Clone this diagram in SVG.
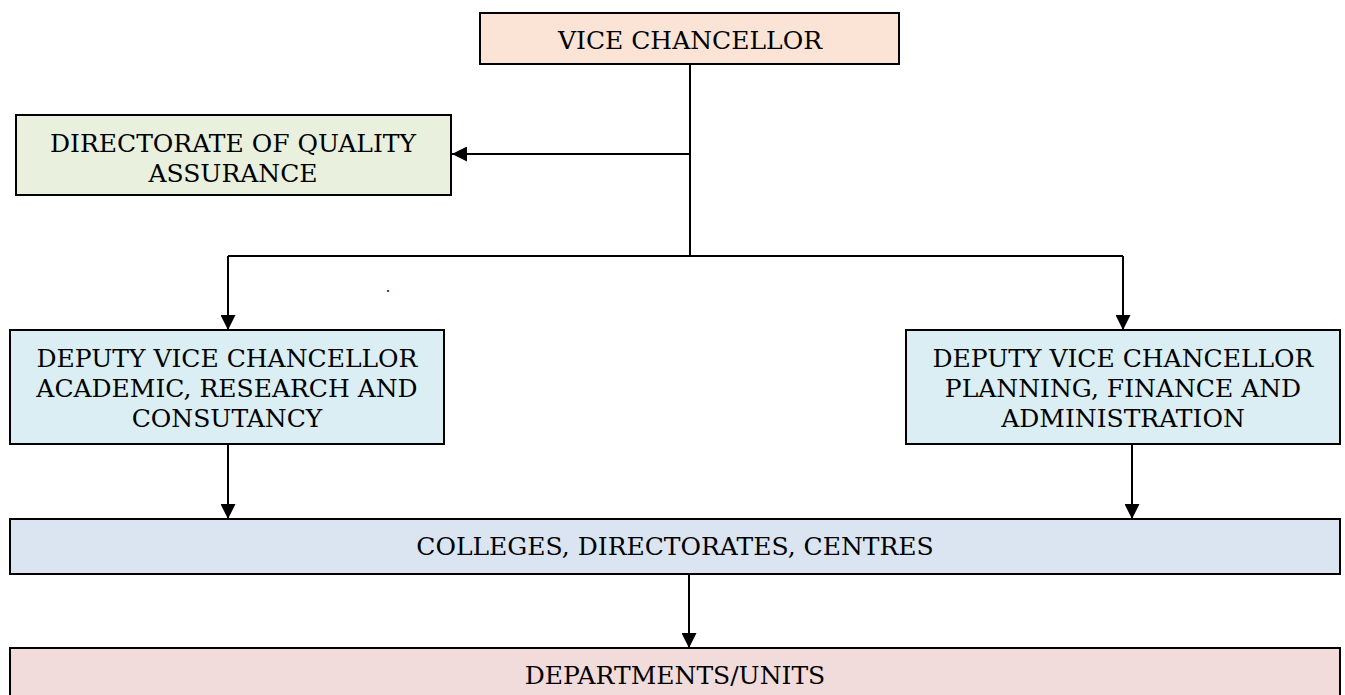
<svg xmlns="http://www.w3.org/2000/svg" width="1345" height="695" viewBox="0 0 1345 695">
<style>
.box{stroke:#000;stroke-width:2}
.t{font-family:"DejaVu Serif","Liberation Serif",serif;font-size:25px;fill:#000;text-anchor:middle}
.c{stroke:#000;stroke-width:2;fill:none}
</style>
<defs>
<marker id="ah" markerWidth="15" markerHeight="15" refX="15" refY="7.5" orient="auto" markerUnits="userSpaceOnUse">
<path d="M0,0 L15,7.5 L0,15 Z" fill="#000"/>
</marker>
</defs>
<rect width="1345" height="695" fill="#fff"/>
<g id="connectors">
<path class="c" d="M690,64 V256"/>
<path class="c" d="M690,154 H452" marker-end="url(#ah)"/>
<path class="c" d="M228,256 H1123"/>
<path class="c" d="M228,256 V330" marker-end="url(#ah)"/>
<path class="c" d="M1123,256 V330" marker-end="url(#ah)"/>
<path class="c" d="M228,444 V519" marker-end="url(#ah)"/>
<path class="c" d="M1132,444 V519" marker-end="url(#ah)"/>
<path class="c" d="M689,574 V648" marker-end="url(#ah)"/>
</g>
<g id="vc">
<rect class="box" x="480" y="13" width="419" height="51" fill="#FBE4D5"/>
<text class="t" x="690" y="49">VICE CHANCELLOR</text>
</g>
<g id="dqa">
<rect class="box" x="16" y="115" width="435" height="80" fill="#E9F0DE"/>
<text class="t" x="233" y="152">DIRECTORATE OF QUALITY</text>
<text class="t" x="233" y="182">ASSURANCE</text>
</g>
<g id="dvc-academic">
<rect class="box" x="10" y="330" width="434" height="114" fill="#DAEEF3"/>
<text class="t" x="227" y="367">DEPUTY VICE CHANCELLOR</text>
<text class="t" x="227" y="397">ACADEMIC, RESEARCH AND</text>
<text class="t" x="227" y="427">CONSUTANCY</text>
</g>
<g id="dvc-planning">
<rect class="box" x="906" y="330" width="434" height="114" fill="#DAEEF3"/>
<text class="t" x="1123" y="367">DEPUTY VICE CHANCELLOR</text>
<text class="t" x="1123" y="397">PLANNING, FINANCE AND</text>
<text class="t" x="1123" y="427">ADMINISTRATION</text>
</g>
<g id="colleges">
<rect class="box" x="10" y="519" width="1330" height="55" fill="#DBE5F1"/>
<text class="t" x="675" y="555">COLLEGES, DIRECTORATES, CENTRES</text>
</g>
<g id="departments">
<rect class="box" x="10" y="648" width="1330" height="60" fill="#F2DBDB"/>
<text class="t" x="675" y="684">DEPARTMENTS/UNITS</text>
</g>
<text class="t" x="388" y="292" style="font-size:14px">.</text>
</svg>
